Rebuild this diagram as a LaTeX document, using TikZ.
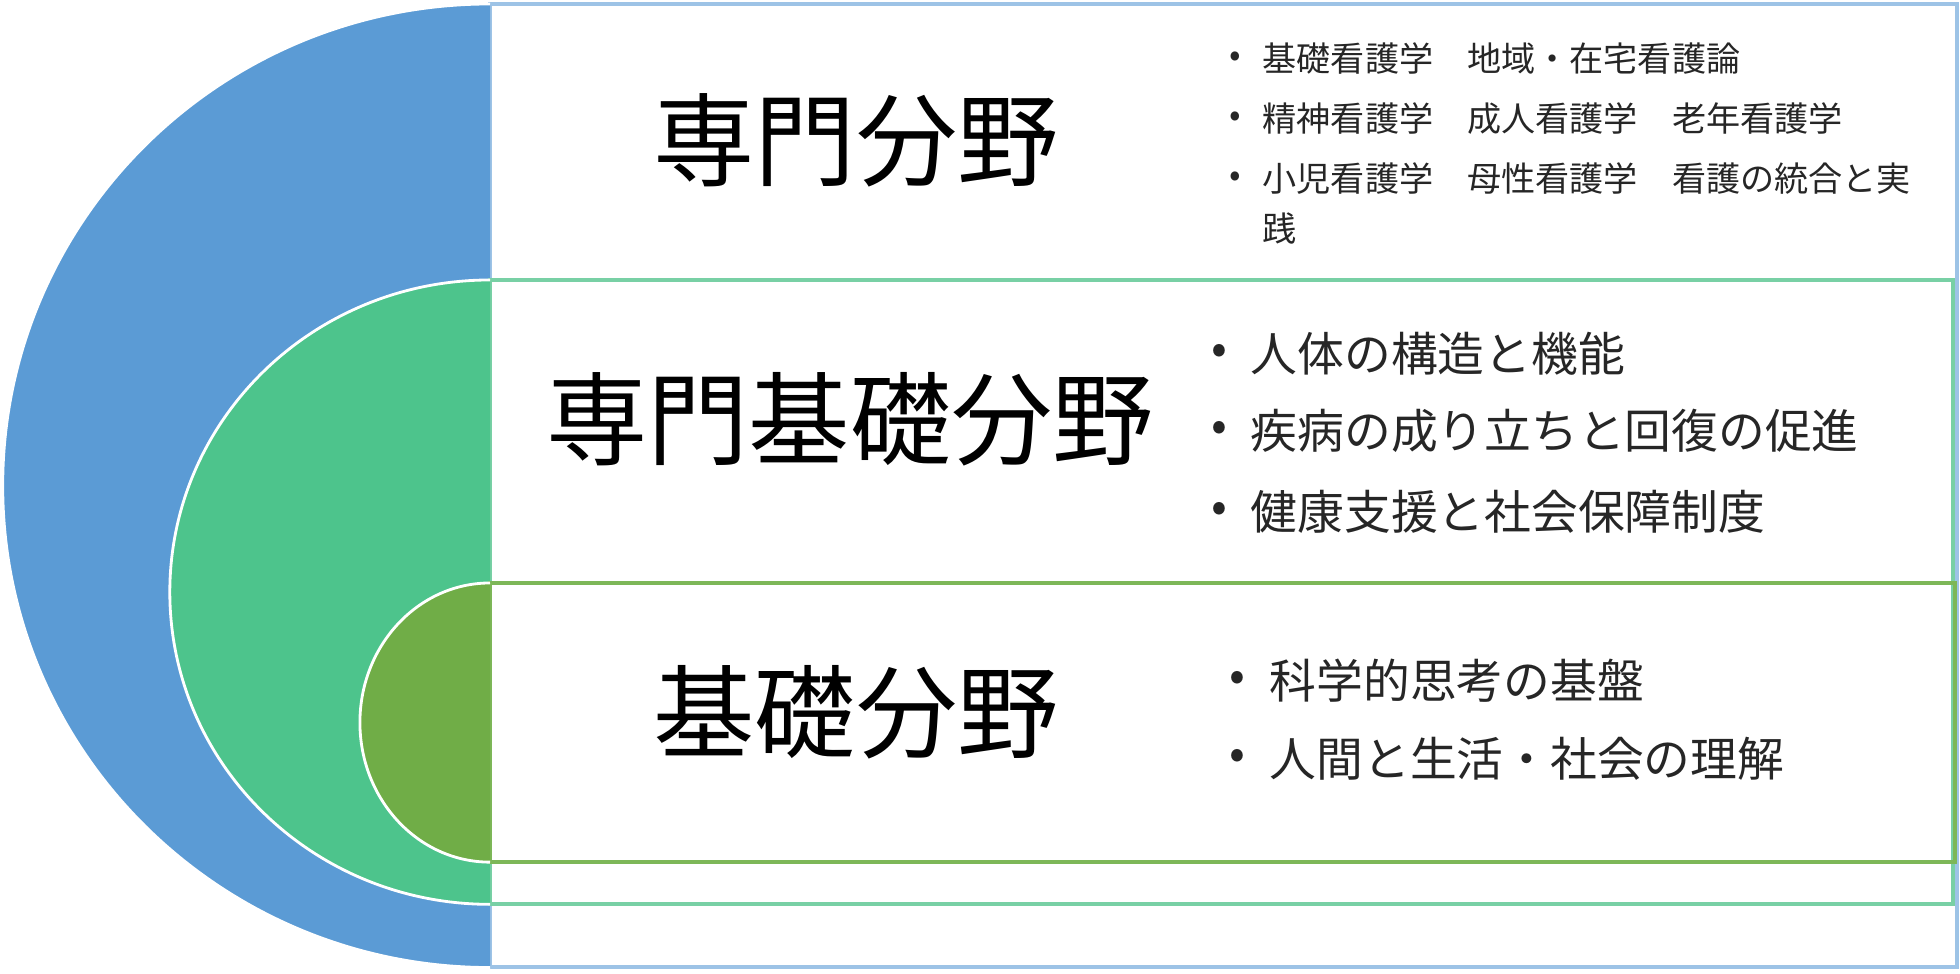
\documentclass[tikz,border=0pt]{standalone}
\usepackage{fontspec}
\setmainfont{Noto Sans CJK JP}
\definecolor{outerblue}{RGB}{91, 155, 213}
\definecolor{midgreen}{RGB}{77, 196, 140}
\definecolor{innergreen}{RGB}{112, 173, 71}
\definecolor{outerline}{RGB}{157, 195, 230}
\definecolor{midline}{RGB}{120, 208, 165}
\definecolor{innerline}{RGB}{125, 183, 88}

\begin{document}
\begin{tikzpicture}[x=0.01cm, y=0.01cm,
  title/.style={inner sep=0pt, font=\fontsize{28.8}{34}\selectfont},
  topitem/.style={anchor=west, inner sep=0pt, font=\fontsize{9.7}{12}\selectfont, text=black!85},
  item/.style={anchor=west, inner sep=0pt, font=\fontsize{13.3}{16}\selectfont, text=black!85},
  bul/.style={anchor=center}]
  \useasboundingbox (0,0) rectangle (1960,974);

  % outer band
  \draw[outerline, line width=1pt] (490,7) rectangle (1957,970);
  \fill[outerblue] (490,970) arc[start angle=90, end angle=270, x radius=4.87cm, y radius=4.815cm] -- cycle;
  \draw[white, line width=0.8pt] (490,970) arc[start angle=90, end angle=270, x radius=4.87cm, y radius=4.815cm];

  % middle band
  \draw[midline, line width=1pt] (490,70) rectangle (1953,694);
  \fill[midgreen] (490,694) arc[start angle=90, end angle=270, x radius=3.2cm, y radius=3.12cm] -- cycle;
  \draw[white, line width=0.8pt] (490,694) arc[start angle=90, end angle=270, x radius=3.2cm, y radius=3.12cm];

  % inner band
  \draw[innerline, line width=1pt] (490,112) rectangle (1955,391);
  \fill[innergreen] (490,391) arc[start angle=90, end angle=270, x radius=1.3cm, y radius=1.395cm] -- cycle;
  \draw[white, line width=0.8pt] (490,391) arc[start angle=90, end angle=270, x radius=1.3cm, y radius=1.395cm];

  % titles
  \node[title] (senmon) at (856, 834) {専門分野};
  \node[title] (senmonkiso) at (850, 555) {専門基礎分野};
  \node[title] (kiso) at (856, 262) {基礎分野};

  % lists
  \foreach \y/\t [count=\i] in {915/基礎看護学　地域・在宅看護論, 855/精神看護学　成人看護学　老年看護学, 795/小児看護学　母性看護学　看護の統合と実} {
    \node[topitem, bul] (tb\i) at (1235, \y) {•};
    \node[topitem] (tt\i) at (1262, \y) {\t};
  }
  \node[topitem] (tt4) at (1262, 745) {践};

  \foreach \y/\t [count=\i] in {620/人体の構造と機能, 543/疾病の成り立ちと回復の促進, 462/健康支援と社会保障制度} {
    \node[item, bul] (mb\i) at (1219, \y) {•};
    \node[item] (mt\i) at (1250, \y) {\t};
  }

  \foreach \y/\t [count=\i] in {293/科学的思考の基盤, 215/人間と生活・社会の理解} {
    \node[item, bul] (kb\i) at (1237, \y) {•};
    \node[item] (kt\i) at (1269, \y) {\t};
  }
\end{tikzpicture}
\end{document}
